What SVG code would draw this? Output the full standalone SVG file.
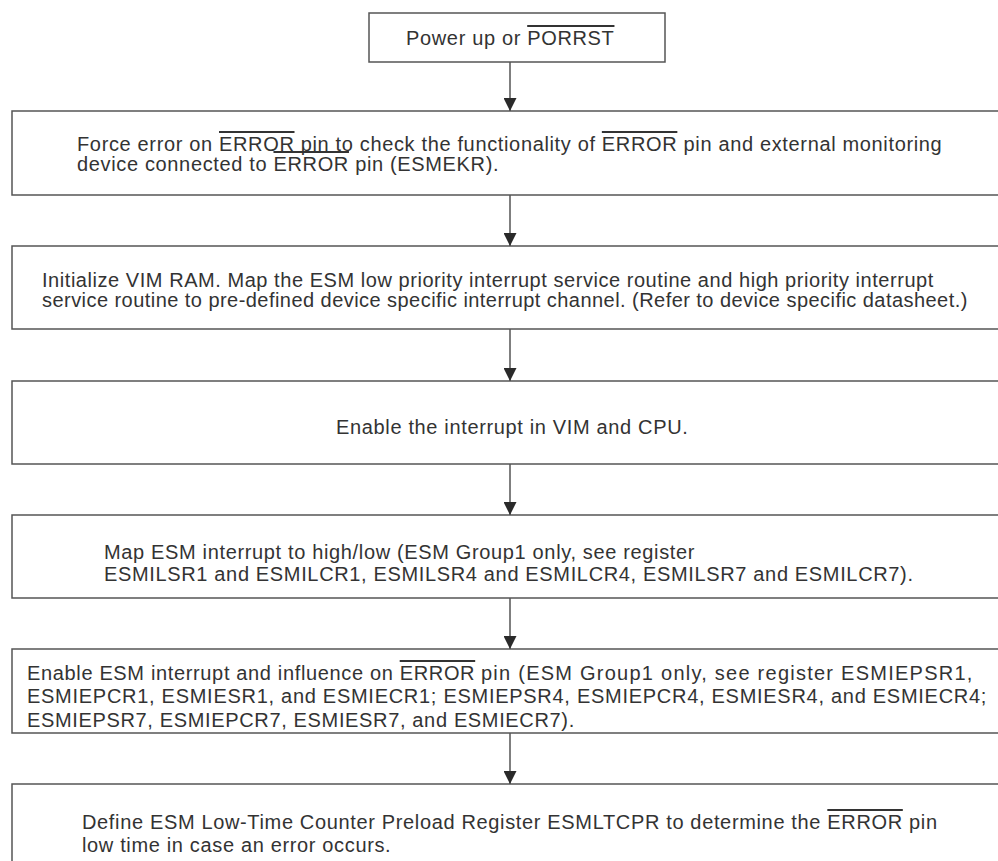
<svg xmlns="http://www.w3.org/2000/svg" width="998" height="861" viewBox="0 0 998 861">
<defs>
<marker id="ah" markerWidth="13" markerHeight="13" refX="13" refY="6.5" orient="auto" markerUnits="userSpaceOnUse" viewBox="0 0 13 13">
<path d="M0,0 L13,6.5 L0,13 Z" fill="#2a2a2a"/>
</marker>
</defs>
<style>
.box{fill:#fff;stroke:#555;stroke-width:1.5}
.t{font-family:"Liberation Sans",Arial,sans-serif;font-size:20px;letter-spacing:0.65px;fill:#333}
.ov{text-decoration:overline}
.c{stroke:#555;stroke-width:1.5;fill:none}
</style>
<rect width="998" height="861" fill="#fff"/>
<g id="n1">
<rect class="box" x="369" y="13" width="296" height="49"/>
<text class="t" x="406" y="45">Power up or <tspan class="ov">PORRST</tspan></text>
</g>
<g id="n2">
<rect class="box" x="12" y="111" width="1000" height="84"/>
<text class="t" x="77" y="151">Force error on <tspan class="ov">ERROR</tspan> pin to check the functionality of <tspan class="ov">ERROR</tspan> pin and external monitoring</text>
<text class="t" x="77" y="171">device connected to <tspan class="ov">ERROR</tspan> pin (ESMEKR).</text>
</g>
<g id="n3">
<rect class="box" x="12" y="246" width="1000" height="83"/>
<text class="t" x="42" y="287" textLength="892">Initialize VIM RAM. Map the ESM low priority interrupt service routine and high priority interrupt</text>
<text class="t" x="42" y="307" textLength="926">service routine to pre-defined device specific interrupt channel. (Refer to device specific datasheet.)</text>
</g>
<g id="n4">
<rect class="box" x="12" y="381" width="1000" height="83"/>
<text class="t" x="336" y="434">Enable the interrupt in VIM and CPU.</text>
</g>
<g id="n5">
<rect class="box" x="12" y="515" width="1000" height="83"/>
<text class="t" x="104" y="559">Map ESM interrupt to high/low (ESM Group1 only, see register</text>
<text class="t" x="104" y="581">ESMILSR1 and ESMILCR1, ESMILSR4 and ESMILCR4, ESMILSR7 and ESMILCR7).</text>
</g>
<g id="n6">
<rect class="box" x="12" y="649" width="1000" height="84"/>
<text class="t" x="27" y="680">Enable ESM interrupt and influence on <tspan class="ov">ERROR</tspan></text>
<text class="t" x="481" y="680" textLength="492">pin (ESM Group1 only, see register ESMIEPSR1,</text>
<text class="t" x="27" y="703" textLength="960">ESMIEPCR1, ESMIESR1, and ESMIECR1; ESMIEPSR4, ESMIEPCR4, ESMIESR4, and ESMIECR4;</text>
<text class="t" x="27" y="727">ESMIEPSR7, ESMIEPCR7, ESMIESR7, and ESMIECR7).</text>
</g>
<g id="n7">
<rect class="box" x="12" y="784" width="1000" height="100"/>
<text class="t" x="82" y="829">Define ESM Low-Time Counter Preload Register ESMLTCPR to determine the <tspan class="ov">ERROR</tspan> pin</text>
<text class="t" x="82" y="852">low time in case an error occurs.</text>
</g>
<g id="connectors">
<line class="c" x1="510" y1="62" x2="510" y2="111" marker-end="url(#ah)"/>
<line class="c" x1="510" y1="195" x2="510" y2="246" marker-end="url(#ah)"/>
<line class="c" x1="510" y1="329" x2="510" y2="381" marker-end="url(#ah)"/>
<line class="c" x1="510" y1="464" x2="510" y2="515" marker-end="url(#ah)"/>
<line class="c" x1="510" y1="598" x2="510" y2="649" marker-end="url(#ah)"/>
<line class="c" x1="510" y1="733" x2="510" y2="784" marker-end="url(#ah)"/>
</g>
</svg>
